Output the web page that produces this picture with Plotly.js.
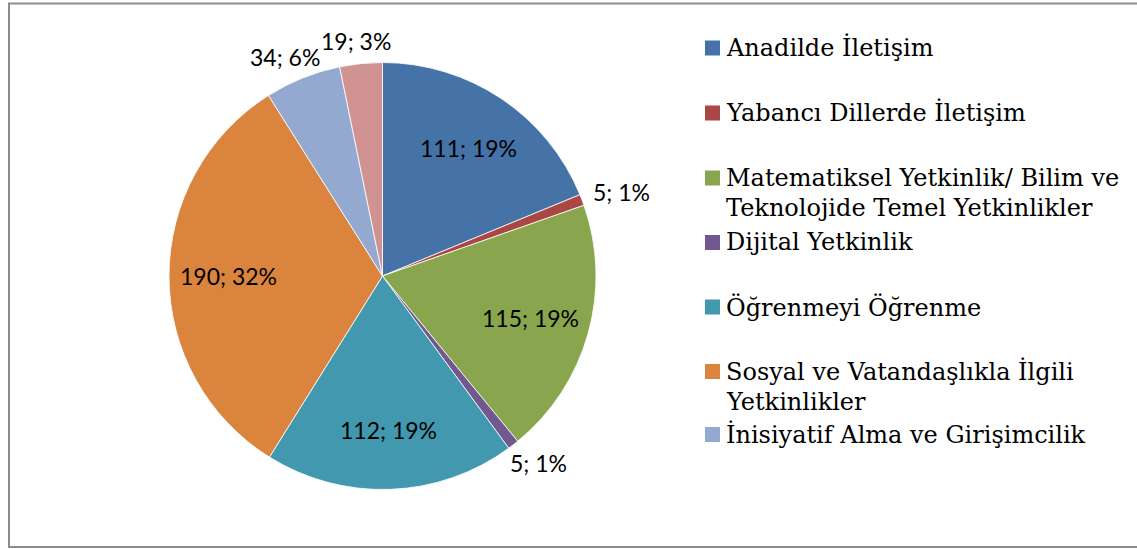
<!DOCTYPE html>
<html>
<head>
<meta charset="utf-8">
<script src="https://cdn.plot.ly/plotly-3.0.1.min.js"></script>
<style>
html,body{margin:0;padding:0;background:#fff;}
#chart{width:1137px;height:549px;}
</style>
</head>
<body>
<div id="chart"></div>
<script>
var categories = [
  "Anadilde İletişim",
  "Yabancı Dillerde İletişim",
  "Matematiksel Yetkinlik/ Bilim ve Teknolojide Temel Yetkinlikler",
  "Dijital Yetkinlik",
  "Öğrenmeyi Öğrenme",
  "Sosyal ve Vatandaşlıkla İlgili Yetkinlikler",
  "İnisiyatif Alma ve Girişimcilik",
  "Kültürel Farkındalık ve İfade"
];
var values = [111, 5, 115, 5, 112, 190, 34, 19];
var colors = ["#4572A7", "#AA4643", "#89A54E", "#71588F", "#4198AF", "#DB843D", "#93A9CF", "#D19392"];
var labelInside = [true, false, true, false, true, true, false, false];
// legend wrapping as in the reference (the 8th entry is cut off there)
var legendLines = [
  ["Anadilde İletişim"],
  ["Yabancı Dillerde İletişim"],
  ["Matematiksel Yetkinlik/ Bilim ve", "Teknolojide Temel Yetkinlikler"],
  ["Dijital Yetkinlik"],
  ["Öğrenmeyi Öğrenme"],
  ["Sosyal ve Vatandaşlıkla İlgili", "Yetkinlikler"],
  ["İnisiyatif Alma ve Girişimcilik"]
];
var legendCenters = [48, 113, 178, 242.5, 307, 371.5, 434.5];

var W = 1137, H = 549;
var cx = 382.5, cy = 276, R = 213.5;

var trace = {
  type: "pie",
  labels: categories,
  values: values,
  sort: false,
  direction: "clockwise",
  rotation: 0,
  marker: {colors: colors, line: {color: "#ffffff", width: 0.8}},
  textinfo: "none",
  domain: {x: [(cx - R) / W, (cx + R) / W], y: [(H - cy - R) / H, (H - cy + R) / H]},
  hoverinfo: "label+value+percent",
  automargin: false,
  showlegend: false
};

var shapes = [{
  type: "rect", xref: "paper", yref: "paper",
  x0: 9 / W, x1: 1145 / W, y0: 1 - 547 / H, y1: 1 - 3.5 / H,
  line: {color: "#8c8c8c", width: 2}, fillcolor: "rgba(0,0,0,0)"
}];
var annotations = [];

// data labels "value; percent" placed along each slice's mid-angle
var total = values.reduce(function (a, b) { return a + b; }, 0);
var labelFamily = "Lato, 'Liberation Sans', sans-serif";
var labelSize = 23;
var labelFont = {family: labelFamily, size: labelSize, color: "#000"};
var ctx = document.createElement("canvas").getContext("2d");
ctx.font = labelSize + "px " + labelFamily;
var cum = 0;
for (var k = 0; k < values.length; k++) {
  var mid = (cum + values[k] / 2) / total * 2 * Math.PI;
  cum += values[k];
  var txt = values[k] + "; " + Math.round(values[k] / total * 100) + "%";
  var s = Math.sin(mid), c = Math.cos(mid);
  var px, py;
  if (labelInside[k]) {
    px = cx + 0.72 * R * s;
    py = cy - 0.72 * R * c;
  } else {
    var w = ctx.measureText(txt).width, h = 18;
    px = cx + (R + 13.5) * s + w / 2 * s;
    py = cy - (R + 13.5) * c - h / 2 * c;
  }
  annotations.push({
    xref: "paper", yref: "paper",
    x: px / W, y: 1 - py / H,
    xanchor: "center", yanchor: "middle",
    text: txt, showarrow: false, font: labelFont
  });
}

var legendFont = {family: "'DejaVu Serif', 'Liberation Serif', serif", size: 24, color: "#000"};
for (var i = 0; i < legendLines.length; i++) {
  var yc = legendCenters[i];
  shapes.push({
    type: "rect", xref: "paper", yref: "paper",
    x0: 705 / W, x1: 720 / W, y0: 1 - (yc + 7.5) / H, y1: 1 - (yc - 7.5) / H,
    fillcolor: colors[i], line: {width: 0}
  });
  for (var j = 0; j < legendLines[i].length; j++) {
    annotations.push({
      xref: "paper", yref: "paper",
      x: 724 / W, y: 1 - (yc + j * 30) / H,
      xanchor: "left", yanchor: "middle",
      text: legendLines[i][j], showarrow: false,
      font: legendFont
    });
  }
}

var layout = {
  width: W, height: H,
  margin: {l: 0, r: 0, t: 0, b: 0},
  paper_bgcolor: "#ffffff",
  showlegend: false,
  shapes: shapes,
  annotations: annotations
};

Plotly.newPlot("chart", [trace], layout, {displayModeBar: false, staticPlot: true});
</script>
</body>
</html>
